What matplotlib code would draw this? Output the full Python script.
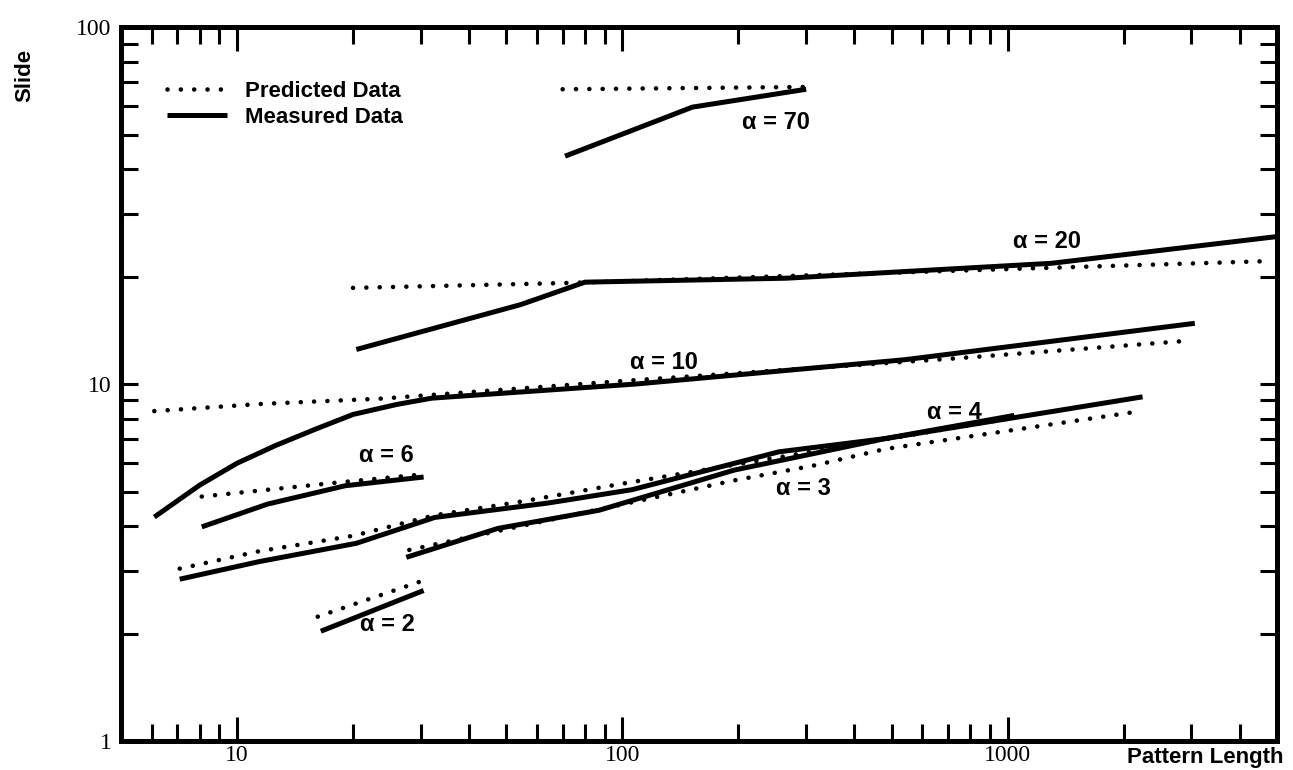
import matplotlib
matplotlib.use('Agg')
import matplotlib.pyplot as plt
from matplotlib.ticker import LogLocator, NullFormatter

# 数据
x_pred_70 = [70, 300]
y_pred_70 = [67, 68]
x_meas_70 = [71, 152, 300]
y_meas_70 = [43.5, 59.7, 67]

x_pred_20 = [20, 72, 1000, 4700]
y_pred_20 = [18.6, 19.2, 21.0, 22.1]
x_meas_20 = [20.4, 54.5, 80, 267, 1300, 5000]
y_meas_20 = [12.5, 16.7, 19.3, 19.8, 21.8, 25.9]

x_pred_10 = [6.1, 11.6, 23.5, 100, 730, 2880]
y_pred_10 = [8.4, 8.8, 9.1, 10.2, 11.8, 13.2]
x_meas_10 = [6.1, 8.0, 10, 12.6, 16, 20, 26, 32, 38, 108, 540, 3060]
y_meas_10 = [4.24, 5.21, 6.0, 6.73, 7.48, 8.22, 8.77, 9.13, 9.25, 10.0, 11.7, 14.8]

x_pred_6 = [8.1, 18.3, 29.6]
y_pred_6 = [4.84, 5.30, 5.57]
x_meas_6 = [8.1, 12, 19.1, 30.5]
y_meas_6 = [3.98, 4.61, 5.19, 5.49]

x_pred_4 = [7.1, 11.4, 20.1, 32.6, 55, 97, 144, 195, 1000]
y_pred_4 = [3.04, 3.40, 3.76, 4.29, 4.69, 5.23, 5.62, 5.94, 8.0]
x_meas_4 = [7.1, 11.4, 20.4, 32.6, 64, 106, 255, 483, 1040]
y_meas_4 = [2.84, 3.18, 3.58, 4.23, 4.64, 5.06, 6.46, 7.04, 8.17]

x_pred_3 = [28, 195, 316, 482, 2120]
y_pred_3 = [3.43, 5.37, 5.92, 6.58, 8.34]
x_meas_3 = [27.5, 47.5, 87, 195, 330, 483, 2240]
y_meas_3 = [3.27, 3.94, 4.43, 5.74, 6.46, 7.04, 9.21]

x_pred_2 = [16.2, 29.7]
y_pred_2 = [2.23, 2.79]
x_meas_2 = [16.5, 30.5]
y_meas_2 = [2.03, 2.64]

# 曲线标注: 文本, x, y
label_text = ['α = 70', 'α = 20', 'α = 10', 'α = 6', 'α = 4', 'α = 3', 'α = 2']
label_x = [250, 1265, 128, 24.4, 726, 296, 24.6]
label_y = [54, 25.1, 11.5, 6.3, 8.34, 5.1, 2.12]

x_ticks = [10, 100, 1000]
y_ticks = [1, 10, 100]

predicted = [
    (x_pred_70, y_pred_70), (x_pred_20, y_pred_20), (x_pred_10, y_pred_10),
    (x_pred_6, y_pred_6), (x_pred_4, y_pred_4), (x_pred_3, y_pred_3),
    (x_pred_2, y_pred_2),
]
measured = [
    (x_meas_70, y_meas_70), (x_meas_20, y_meas_20), (x_meas_10, y_meas_10),
    (x_meas_6, y_meas_6), (x_meas_4, y_meas_4), (x_meas_3, y_meas_3),
    (x_meas_2, y_meas_2),
]

plt.rcParams['font.family'] = ['Liberation Sans', 'DejaVu Sans']

fig = plt.figure(figsize=(12.93, 7.70), dpi=100)
ax = fig.add_axes([0.0936, 0.0377, 0.894, 0.927])

dot_style = dict(color='black', lw=3.3, linestyle=(0, (0.01, 2.9)),
                 dash_capstyle='round')
line_style = dict(color='black', lw=3.6, solid_capstyle='butt')

for i, (xs, ys) in enumerate(predicted):
    ax.plot(xs, ys, label='Predicted Data' if i == 0 else None, **dot_style)
for i, (xs, ys) in enumerate(measured):
    ax.plot(xs, ys, label='Measured Data' if i == 0 else None, **line_style)

for t, x, y in zip(label_text, label_x, label_y):
    ax.text(x, y, t, fontsize=17, fontweight='bold', ha='center', va='center')

ax.set_xscale('log')
ax.set_yscale('log')
ax.set_xlim(5, 5000)
ax.set_ylim(1, 100)

ax.set_xticks(x_ticks)
ax.set_xticklabels([str(v) for v in x_ticks], family='Liberation Serif', fontsize=17)
ax.set_yticks(y_ticks)
ax.set_yticklabels([str(v) for v in y_ticks], family='Liberation Serif', fontsize=17)
ax.xaxis.set_minor_locator(LogLocator(base=10, subs=range(2, 10)))
ax.yaxis.set_minor_locator(LogLocator(base=10, subs=range(2, 10)))
ax.xaxis.set_minor_formatter(NullFormatter())
ax.yaxis.set_minor_formatter(NullFormatter())

# 刻度朝内, 四边都有
ax.tick_params(axis='x', which='major', direction='in', length=17, width=2.2,
               top=True, bottom=True, pad=3)
ax.tick_params(axis='x', which='minor', direction='in', length=12, width=2.2,
               top=True, bottom=True)
ax.tick_params(axis='y', which='both', direction='in', length=12, width=2.2,
               left=True, right=True, pad=7)

for s in ax.spines.values():
    s.set_linewidth(3.6)

leg = ax.legend(loc='upper left', bbox_to_anchor=(0.04, 0.925), frameon=False,
                fontsize=16, handlelength=2.7, handletextpad=0.8,
                labelspacing=0.25, borderpad=0, borderaxespad=0)
for t in leg.get_texts():
    t.set_fontweight('bold')

fig.text(25 / 1293, 1 - 75 / 770, 'Slide', rotation=90, fontsize=16,
         fontweight='bold', ha='center', va='center')
fig.text(1205 / 1293, 1 - 757 / 770, 'Pattern Length', fontsize=16,
         fontweight='bold', ha='center', va='center')

fig.savefig('out.png', dpi=100, facecolor='white')
